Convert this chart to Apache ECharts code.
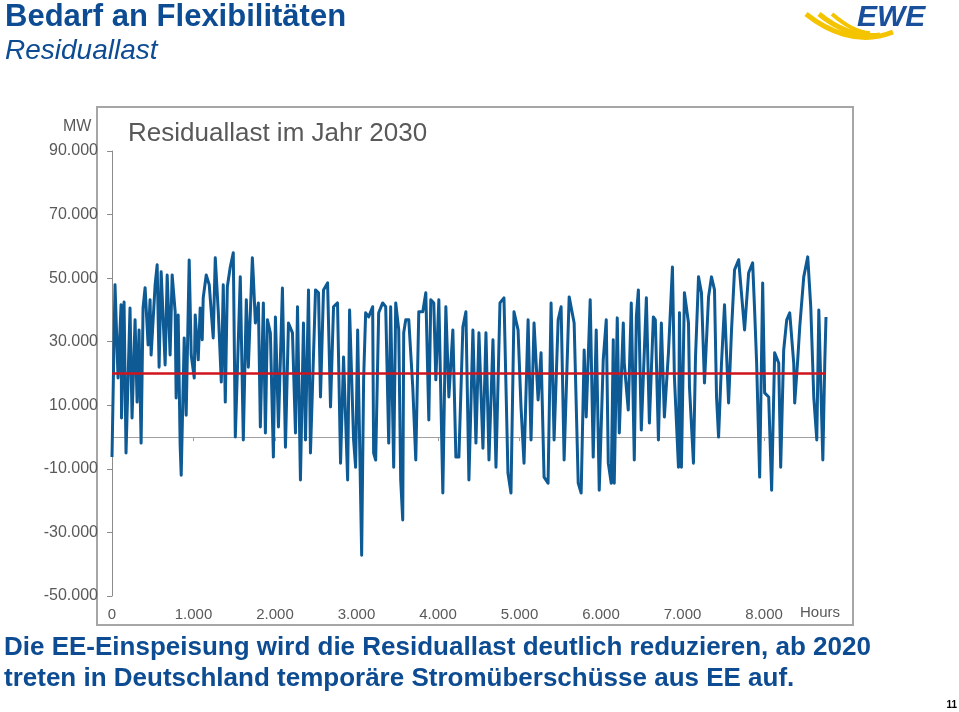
<!DOCTYPE html>
<html><head><meta charset="utf-8">
<script src="https://cdn.jsdelivr.net/npm/echarts@6/dist/echarts.min.js"></script>
<style>html,body{margin:0;padding:0;background:#fff}#c{width:959px;height:712px}</style>
</head><body><div id="c"></div>
<script>
// Hours of the year (x) and residual load in MW (y)
const hours = [0,37,74,111,117,148,172,221,246,283,308,332,357,381,406,443,467,480,529,554,578,603,652,677,713,738,775,787,812,836,849,886,910,947,972,1009,1021,1058,1082,1107,1119,1156,1193,1242,1267,1304,1341,1365,1390,1415,
1451,1488,1513,1574,1611,1648,1673,1722,1734,1759,1796,1820,1857,1882,1907,1943,1980,2005,2042,2091,2128,2165,2214,2251,2276,2312,2349,2374,2411,2435,2497,2534,2558,2595,2645,2681,2718,2767,2804,2841,2891,2915,
2964,2989,3014,3026,3063,3087,3112,3149,3198,3210,3235,3272,3321,3358,3395,3419,3456,3481,3518,3542,3567,3579,3604,3641,3690,3727,3764,3813,3850,3887,3911,3948,3973,4010,4034,4059,4096,4133,4182,4219,4256,4305,4342,4379,4428,4465,4502,4551,4588,4625,4674,4711,4760,4809,4858,4895,4932,4982,5018,5055,5105,5141,5178,5228,5264,5301,5350,5387,5424,5474,5510,5547,5609,5670,5720,5756,5793,5818,
5867,5904,5941,5978,6027,6064,6089,6125,6150,6162,6199,6224,6273,6285,6334,6371,6408,6433,6458,6494,6556,6593,6642,6666,6704,6740,6777,6827,6876,6900,6950,6962,6986,7023,7073,7085,7134,7159,7196,7232,7269,7319,7355,7392,7417,7442,7478,7515,7565,7601,7638,7688,7712,7761,7811,7860,7884,7909,7946,7983,8007,8057,8093,8130,8180,8204,8241,8278,8315,8364,8376,8413,8438,8487,8536,8573,8610,8647,8672,8721,8745,8760];
const residualLoad = [-6300,47900,18600,41600,6000,42500,-5000,40600,6000,36900,11000,33700,-1900,40600,47000,29000,43200,25800,47900,54200,22000,52000,22700,51000,25800,51000,39400,12300,38400,-2500,-12000,31200,6900,55700,25800,18600,38400,24300,40600,30600,43800,51000,47900,31200,56400,39400,17300,47900,11000,47300,
53500,58000,0,50400,-900,43200,22000,56400,50400,35900,42200,3200,42200,1300,36900,32800,-6300,37800,3200,46900,-3200,35900,32800,1300,41000,-13500,35900,-900,46300,-5000,46300,45400,12600,46300,48500,9500,41000,42200,-8200,25200,-13500,40000,
-900,-9500,33700,15700,-37200,18000,39100,37800,41000,-5000,-7200,39100,42200,41000,-1900,41000,-9500,42200,33700,-13500,-26100,32800,36900,36900,15700,-7200,39400,39400,45400,5400,43200,42200,18000,43200,43800,-17600,41000,12600,33700,-6300,-6300,34700,39400,-13500,33700,-1900,32800,-3500,32800,-7200,30600,-9500,42200,43800,-11300,-17600,39400,33700,9500,-8200,36900,-900,35900,11700,26500,-12600,-14500,42200,-900,36900,41000,-7200,44100,35900,-14500,-17600,27400,6300,
43200,-6300,33700,-16700,24300,36900,-8200,-14500,30600,-14500,37500,1300,35900,23300,8500,42200,-7200,37800,46300,2200,43800,4400,37800,36900,-900,35900,6300,26500,53500,18900,-9500,39100,-9500,45400,35900,15700,-8200,25200,50400,45400,17000,44100,50400,46300,12600,0,23300,41600,10700,33700,52600,55800,48500,33700,51700,54800,40000,23300,-12600,48500,13900,12600,-16700,26500,23300,-9500,27400,36900,39100,23300,10700,24300,34700,50400,56700,41000,12600,-900,40000,-7200,23300,37800];
const threshold = 20000;
const yTicks = [-50000,-30000,-10000,10000,30000,50000,70000,90000];
const xTicks = [0,1000,2000,3000,4000,5000,6000,7000,8000];

function de(v){const s=Math.abs(v).toString().replace(/\B(?=(\d{3})+(?!\d))/g,'.');return (v<0?'-':'')+s;}
const FONT='"Liberation Sans", Arial, sans-serif';
const BLUE='#0d4c92';
const GRAY='#595959';

const chart = echarts.init(document.getElementById('c'), null, {renderer:'canvas'});
chart.setOption({
  animation:false,
  backgroundColor:'#fff',
  textStyle:{fontFamily:FONT},
  grid:{left:112,right:133,top:151,bottom:116,containLabel:false,outerBoundsMode:'none'},
  xAxis:[{
    type:'value',min:0,max:8760,position:'bottom',
    axisLine:{show:false,onZero:false},axisTick:{show:false},splitLine:{show:false},
    axisLabel:{customValues:xTicks,formatter:de,color:GRAY,fontSize:15,margin:11,fontFamily:FONT}
  },{
    type:'value',min:0,max:8760,position:'bottom',
    axisLine:{show:true,onZero:true,lineStyle:{color:'#a0a0a0',width:1}},
    axisTick:{show:true,customValues:xTicks,length:4,lineStyle:{color:'#a0a0a0'}},
    axisLabel:{show:false},splitLine:{show:false}
  }],
  yAxis:{
    type:'value',min:-50000,max:90000,
    axisLine:{show:true,lineStyle:{color:'#8c8c8c',width:1}},
    axisTick:{show:true,customValues:yTicks,length:5,lineStyle:{color:'#8c8c8c'}},
    axisLabel:{customValues:yTicks,formatter:de,color:GRAY,fontSize:16,margin:14,fontFamily:FONT},
    splitLine:{show:false}
  },
  series:[{
    type:'line',xAxisIndex:0,yAxisIndex:0,
    data:hours.map((h,i)=>[h,residualLoad[i]]),
    showSymbol:false,symbol:'none',
    lineStyle:{color:'#0e5a94',width:3,join:'round'},
    markLine:{silent:true,symbol:'none',label:{show:false},
      lineStyle:{color:'#d0141e',width:2.6,type:'solid'},
      data:[{yAxis:threshold}]}
  }],
  graphic:[
    {type:'rect',z:-1,shape:{x:97,y:107,width:756,height:518},style:{fill:'none',stroke:'#a6a6a6',lineWidth:2}},
    {type:'text',left:5,top:2,style:{text:'Bedarf an Flexibilitäten',font:'bold 31px '+FONT,fill:BLUE}},
    {type:'text',left:5,top:37,style:{text:'Residuallast',font:'italic 28px '+FONT,fill:BLUE}},
    {type:'text',left:128,top:121,style:{text:'Residuallast im Jahr 2030',font:'26px '+FONT,fill:GRAY}},
    {type:'text',left:63,top:119,style:{text:'MW',font:'16px '+FONT,fill:GRAY}},
    {type:'text',left:800,top:605,style:{text:'Hours',font:'15px '+FONT,fill:GRAY}},
    {type:'text',left:4,top:635,style:{text:'Die EE-Einspeisung wird die Residuallast deutlich reduzieren, ab 2020',font:'bold 26px '+FONT,fill:BLUE}},
    {type:'text',left:4,top:666,style:{text:'treten in Deutschland temporäre Stromüberschüsse aus EE auf.',font:'bold 26px '+FONT,fill:BLUE}},
    {type:'text',right:2,top:700,style:{text:'11',font:'bold 10px '+FONT,fill:'#000'}},
    {type:'text',left:857,top:3,style:{text:'EWE',font:'italic bold 30px '+FONT,fill:'#1a4f9c'}},
    {type:'bezierCurve',shape:{x1:806,y1:14,cpx1:826,cpy1:30,cpx2:858,cpy2:46,x2:893,y2:32},style:{stroke:'#f5c400',lineWidth:5,fill:'none'}},
    {type:'bezierCurve',shape:{x1:819,y1:14,cpx1:836,cpy1:28,cpx2:858,cpy2:38,x2:880,y2:35},style:{stroke:'#f5c400',lineWidth:5,fill:'none'}},
    {type:'bezierCurve',shape:{x1:832,y1:14,cpx1:846,cpy1:26,cpx2:860,cpy2:33,x2:870,y2:33},style:{stroke:'#f5c400',lineWidth:4,fill:'none'}}
  ]
});
</script></body></html>
